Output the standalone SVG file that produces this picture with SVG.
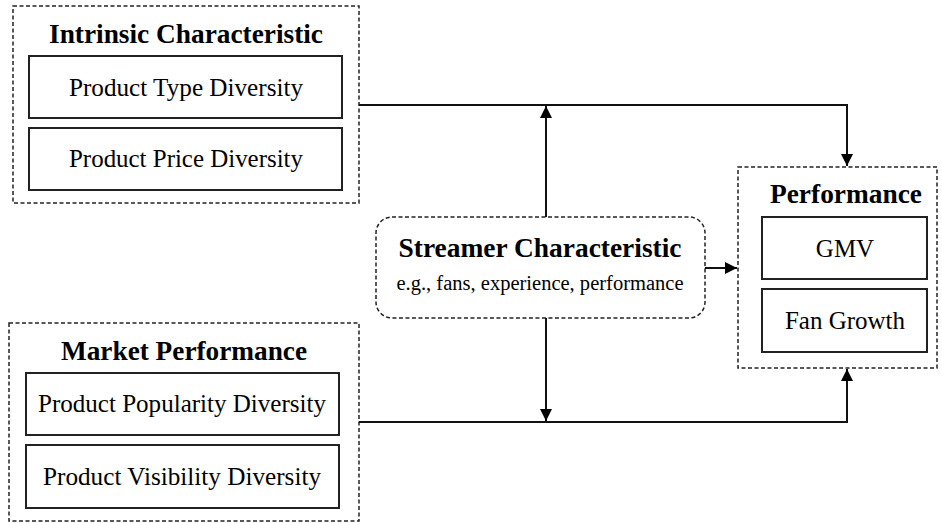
<svg xmlns="http://www.w3.org/2000/svg" width="942" height="523" viewBox="0 0 942 523">
<style>
.grp{fill:none;stroke:#222;stroke-width:1.5;stroke-dasharray:4 2.5}
.box{fill:#fff;stroke:#222;stroke-width:2}
.t{fill:#000;text-anchor:middle}
.h{font-size:27px;font-weight:bold}
.r{font-size:25px}
.s{font-size:20px}
.c{fill:none;stroke:#111;stroke-width:2}
</style>
<defs>
<marker id="ah" viewBox="0 0 10 10" refX="10" refY="5" markerWidth="12" markerHeight="12" markerUnits="userSpaceOnUse" orient="auto">
<path d="M0,0 L10,5 L0,10 z" fill="#000"/>
</marker>
</defs>
<rect width="942" height="523" fill="#fff"/>
<g font-family="Liberation Serif, DejaVu Serif, serif">
<g id="intrinsic">
<rect class="grp" x="13" y="6" width="346" height="197"/>
<text class="t h" x="186" y="43" textLength="274" lengthAdjust="spacingAndGlyphs">Intrinsic Characteristic</text>
<g id="type"><rect class="box" x="29" y="56" width="313" height="62"/><text class="t r" x="186" y="96" textLength="234" lengthAdjust="spacingAndGlyphs">Product Type Diversity</text></g>
<g id="price"><rect class="box" x="29" y="128" width="313" height="62"/><text class="t r" x="186" y="167" textLength="234" lengthAdjust="spacingAndGlyphs">Product Price Diversity</text></g>
</g>
<g id="market">
<rect class="grp" x="9" y="323" width="350" height="198"/>
<text class="t h" x="184" y="360" textLength="246" lengthAdjust="spacingAndGlyphs">Market Performance</text>
<g id="popularity"><rect class="box" x="26" y="373" width="313" height="62"/><text class="t r" x="182" y="412" textLength="288" lengthAdjust="spacingAndGlyphs">Product Popularity Diversity</text></g>
<g id="visibility"><rect class="box" x="26" y="445" width="313" height="63"/><text class="t r" x="182" y="485" textLength="278" lengthAdjust="spacingAndGlyphs">Product Visibility Diversity</text></g>
</g>
<g id="streamer">
<rect class="grp" x="376" y="217" width="329" height="101" rx="16"/>
<text class="t h" x="540" y="257" textLength="283" lengthAdjust="spacingAndGlyphs">Streamer Characteristic</text>
<text class="t s" x="540" y="290" textLength="287" lengthAdjust="spacingAndGlyphs">e.g., fans, experience, performance</text>
</g>
<g id="performance">
<rect class="grp" x="738" y="167" width="199" height="201"/>
<text class="t h" x="846" y="203" textLength="152" lengthAdjust="spacingAndGlyphs">Performance</text>
<g id="gmv"><rect class="box" x="762" y="217" width="165" height="62"/><text class="t r" x="845" y="257">GMV</text></g>
<g id="fan"><rect class="box" x="762" y="289" width="165" height="63"/><text class="t r" x="845" y="329">Fan Growth</text></g>
</g>
</g>
<g id="connectors">
<path class="c" d="M359,105 H847 V166" marker-end="url(#ah)"/>
<path class="c" d="M359,422 H847 V369" marker-end="url(#ah)"/>
<path class="c" d="M546,217 V106" marker-end="url(#ah)"/>
<path class="c" d="M546,318 V421" marker-end="url(#ah)"/>
<path class="c" d="M705,268 H737" marker-end="url(#ah)"/>
</g>
</svg>
